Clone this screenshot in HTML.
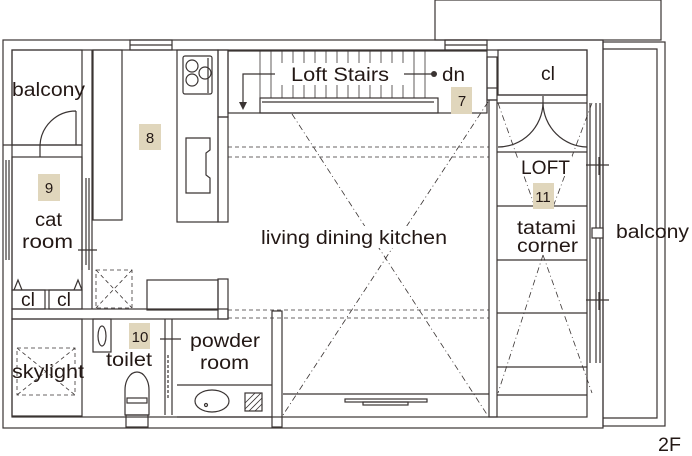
<!DOCTYPE html><html><head><style>body{margin:0;background:#fff}svg{display:block}text{font-family:"Liberation Sans",sans-serif;fill:#231815}</style></head><body>
<svg width="692" height="456" viewBox="0 0 692 456" xmlns="http://www.w3.org/2000/svg">
<g fill="none" stroke="#3a3433" stroke-width="1.2">
<rect x="3" y="40" width="600" height="388"/>
<rect x="12" y="50" width="575" height="367"/>
<rect x="435" y="0" width="226" height="40"/>
<rect x="603" y="42" width="62" height="384"/>
<polyline points="603,49 657,49 657,418 603,418"/>
<rect x="130" y="40" width="42" height="10"/><line x1="130" y1="45" x2="172" y2="45"/>
<rect x="445" y="40" width="42" height="10"/><line x1="445" y1="45" x2="487" y2="45"/>
<rect x="12" y="50" width="70" height="95"/>
<line x1="3" y1="145" x2="82" y2="145"/>
<path d="M40,157 L40,145 M76,111 L76,145 M76,111 A36,36 0 0 0 40,145"/>
<rect x="12" y="157" width="70" height="133"/>
<line x1="6" y1="160" x2="6" y2="260"/><line x1="9" y1="160" x2="9" y2="260"/>
<line x1="82" y1="157" x2="82" y2="270"/><line x1="89" y1="178" x2="89" y2="270"/>
<line x1="86" y1="178" x2="86" y2="265"/>
<line x1="78" y1="250" x2="97" y2="250"/>
<rect x="12" y="290" width="33" height="19"/><rect x="49" y="290" width="33" height="19"/>
<path d="M14,290 L18,280 L22,290 M74,290 L78,280 L82,290"/>
<rect x="12" y="309" width="216" height="10"/>
<line x1="82" y1="145" x2="82" y2="157"/>
<line x1="92" y1="50" x2="92" y2="309"/>
<rect x="12" y="319" width="70" height="97"/>
<rect x="93" y="50" width="29" height="170"/>
<rect x="177" y="50" width="41" height="172"/>
<rect x="183" y="56" width="29" height="38" rx="2"/>
<circle cx="192" cy="66" r="6"/><circle cx="192" cy="80" r="6"/><circle cx="205" cy="73" r="6"/><line x1="208" y1="58" x2="208" y2="93"/>
<path d="M186,138 H210 V150 L206,153 V175 L210,178 V193 H186 Z"/>
<rect x="218" y="50" width="10" height="67"/>
<rect x="218" y="117" width="10" height="105"/>
<rect x="147" y="280" width="71" height="30"/><rect x="218" y="279" width="10" height="40"/>
<rect x="228" y="51" width="259" height="62"/>
<rect x="260" y="98" width="178" height="15"/>
<line x1="262" y1="102" x2="434" y2="102"/>
<g stroke-width="0.8">
<line x1="260" y1="51" x2="260" y2="98"/><line x1="271" y1="51" x2="271" y2="98"/><line x1="282" y1="51" x2="282" y2="98"/><line x1="293" y1="51" x2="293" y2="98"/><line x1="304" y1="51" x2="304" y2="98"/><line x1="315" y1="51" x2="315" y2="98"/><line x1="326" y1="51" x2="326" y2="98"/><line x1="337" y1="51" x2="337" y2="98"/><line x1="348" y1="51" x2="348" y2="98"/><line x1="359" y1="51" x2="359" y2="98"/><line x1="370" y1="51" x2="370" y2="98"/><line x1="381" y1="51" x2="381" y2="98"/><line x1="392" y1="51" x2="392" y2="98"/><line x1="403" y1="51" x2="403" y2="98"/><line x1="414" y1="51" x2="414" y2="98"/><line x1="425" y1="51" x2="425" y2="98"/>
</g>
<rect x="280" y="63" width="126" height="22" fill="#fff" stroke="none"/>
<polyline points="275,74 243,74 243,104"/>
<line x1="404" y1="74" x2="434" y2="74"/>
<rect x="487" y="57" width="10" height="43"/><line x1="487" y1="88" x2="497" y2="88"/>
<rect x="489" y="100" width="8" height="317"/>
<rect x="498" y="50" width="89" height="45"/>
<line x1="497" y1="95" x2="587" y2="95"/><line x1="497" y1="103" x2="587" y2="103"/>
<path d="M543,96 L543,103 M498,147 A45,45 0 0 0 543,103 A45,45 0 0 0 587,147"/>
<line x1="497" y1="152" x2="587" y2="152"/><line x1="497" y1="206" x2="587" y2="206"/><line x1="497" y1="260" x2="587" y2="260"/><line x1="497" y1="313" x2="587" y2="313"/><line x1="497" y1="367" x2="587" y2="367"/><line x1="497" y1="395" x2="587" y2="395"/>
<line x1="590" y1="103" x2="590" y2="363"/><line x1="596" y1="103" x2="596" y2="363"/><line x1="600" y1="103" x2="600" y2="363"/>
<rect x="592" y="228" width="11" height="10" fill="#fff"/>
<path d="M586,165 H609 M599,157 V175 M586,300 H609 M599,292 V310"/>
<rect x="93" y="319" width="18" height="33"/><ellipse cx="102" cy="336" rx="4" ry="10"/>
<path d="M125,415 V390 A12,18 0 0 1 149,390 V415 Z"/><rect x="127" y="398" width="20" height="5"/>
<rect x="126" y="415" width="22" height="12"/>
<line x1="165" y1="319" x2="165" y2="415"/><line x1="172" y1="319" x2="172" y2="415"/>
<line x1="168" y1="355" x2="168" y2="400" stroke-dasharray="3,2"/>
<line x1="160" y1="339" x2="181" y2="339"/>
<line x1="177" y1="385" x2="272" y2="385"/>
<line x1="177" y1="417" x2="272" y2="417"/>
<ellipse cx="212" cy="401" rx="17" ry="11"/><circle cx="206" cy="405" r="1.5"/>
<rect x="245" y="393" width="17" height="18"/>
<path d="M245,403 L255,393 M245,409 L261,393 M249,411 L262,398 M255,411 L262,404" stroke-width="0.8"/>
<rect x="272" y="311" width="10" height="116"/>
<line x1="283" y1="394" x2="489" y2="394"/>
<rect x="345" y="399" width="82" height="3"/><rect x="363" y="402" width="45" height="3"/>
</g>
<g fill="none" stroke="#3a3433" stroke-width="0.8" stroke-dasharray="4,3">
<line x1="228" y1="147" x2="489" y2="147"/><line x1="228" y1="157" x2="489" y2="157"/>
<line x1="228" y1="310" x2="489" y2="310"/><line x1="228" y1="318" x2="489" y2="318"/>
<rect x="96" y="270" width="36" height="38"/><line x1="96" y1="270" x2="132" y2="308"/><line x1="132" y1="270" x2="96" y2="308"/>
<rect x="17" y="348" width="58" height="47"/><line x1="17" y1="348" x2="75" y2="395"/><line x1="75" y1="348" x2="17" y2="395"/>
</g>
<g fill="none" stroke="#3a3433" stroke-width="0.8" stroke-dasharray="6,3,1,3">
<line x1="292" y1="114" x2="488" y2="416"/><line x1="488" y1="102" x2="283" y2="415"/>
<line x1="498" y1="103" x2="535" y2="207"/><line x1="592" y1="103" x2="553" y2="207"/>
<line x1="543" y1="255" x2="498" y2="393"/><line x1="543" y1="255" x2="592" y2="393"/>
</g>
<polygon points="239,102 247,102 243,110" fill="#3a3433"/>
<circle cx="434" cy="74" r="3" fill="#3a3433"/>
<rect x="258" y="226" width="192" height="22" fill="#fff"/>
<rect x="515" y="212" width="66" height="42" fill="#fff"/>
<rect x="518" y="156" width="54" height="20" fill="#fff"/>
<g fill="#e0d6bc"><rect x="139" y="124" width="22" height="26"/><rect x="38" y="174" width="22" height="27"/><rect x="129" y="323" width="21" height="26"/><rect x="451" y="87" width="21" height="27"/><rect x="533" y="183" width="21" height="26"/></g>
<g font-size="19" lengthAdjust="spacingAndGlyphs">
<text x="12" y="96" textLength="73" lengthAdjust="spacingAndGlyphs">balcony</text>
<text x="35" y="226" textLength="27" lengthAdjust="spacingAndGlyphs">cat</text>
<text x="22" y="248" textLength="51" lengthAdjust="spacingAndGlyphs">room</text>
<text x="21" y="306" textLength="14" lengthAdjust="spacingAndGlyphs">cl</text>
<text x="57" y="306" textLength="14" lengthAdjust="spacingAndGlyphs">cl</text>
<text x="12" y="378" textLength="72" lengthAdjust="spacingAndGlyphs">skylight</text>
<text x="106" y="366" textLength="46" lengthAdjust="spacingAndGlyphs">toilet</text>
<text x="190" y="347" textLength="70" lengthAdjust="spacingAndGlyphs">powder</text>
<text x="200" y="369" textLength="49" lengthAdjust="spacingAndGlyphs">room</text>
<text x="291" y="81" textLength="98" lengthAdjust="spacingAndGlyphs">Loft Stairs</text>
<text x="442" y="81" textLength="23" lengthAdjust="spacingAndGlyphs">dn</text>
<text x="261" y="244" textLength="186" lengthAdjust="spacingAndGlyphs">living dining kitchen</text>
<text x="541" y="80" textLength="14" lengthAdjust="spacingAndGlyphs">cl</text>
<text x="521" y="174" textLength="49" lengthAdjust="spacingAndGlyphs">LOFT</text>
<text x="517" y="234" textLength="59" lengthAdjust="spacingAndGlyphs">tatami</text>
<text x="517" y="252" textLength="61" lengthAdjust="spacingAndGlyphs">corner</text>
<text x="616" y="238" textLength="73" lengthAdjust="spacingAndGlyphs">balcony</text>
<text x="658" y="451" textLength="23" lengthAdjust="spacingAndGlyphs">2F</text>
</g>
<g font-size="15" text-anchor="middle"><text x="150" y="143">8</text><text x="49" y="193">9</text><text x="140" y="342">10</text><text x="462" y="106">7</text><text x="543" y="202">11</text></g>
</svg>
</body></html>
